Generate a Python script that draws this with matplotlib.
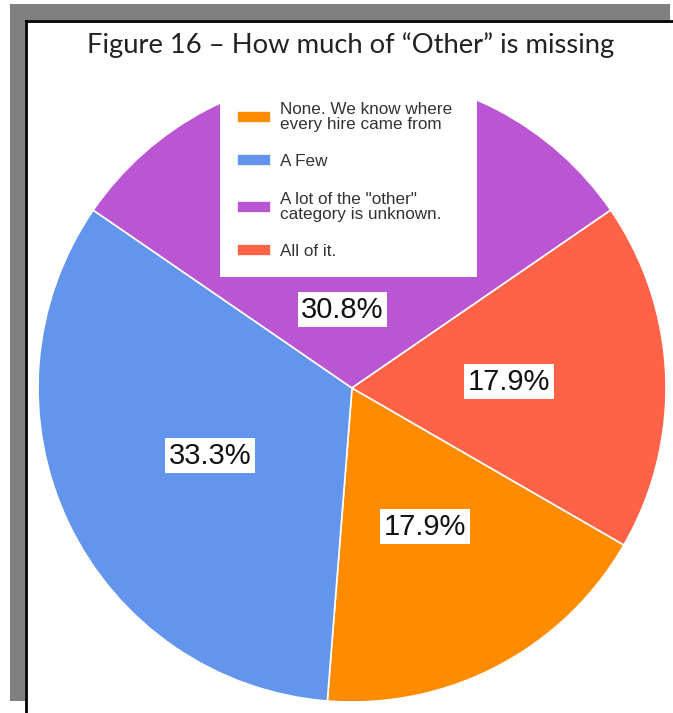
import matplotlib
matplotlib.use("Agg")
import matplotlib.pyplot as plt
from matplotlib.patches import Rectangle
from matplotlib.lines import Line2D

# data (percent of responses)
labels = ["None. We know where\nevery hire came from",
          "A Few",
          "A lot of the \"other\"\ncategory is unknown.",
          "All of it."]
shares = [17.9, 33.3, 30.8, 17.9]
colors = ["darkorange", "cornflowerblue", "mediumorchid", "tomato"]

W, H = 673, 713
fig = plt.figure(figsize=(W / 100, H / 100), dpi=100)


def fx(px):
    return px / W


def fy(py):
    return 1 - py / H


# page frame: grey shadow + black edge
fig.patches.append(Rectangle((fx(10), fy(20)), fx(660), 16 / H, transform=fig.transFigure,
                             fc="#808080", ec="none", zorder=0))
fig.patches.append(Rectangle((fx(10), fy(701)), fx(15), 681 / H, transform=fig.transFigure,
                             fc="#808080", ec="none", zorder=0))
fig.lines.append(Line2D([fx(26), fx(673)], [fy(21), fy(21)], transform=fig.transFigure,
                        color="black", lw=2))
fig.lines.append(Line2D([fx(26), fx(26)], [fy(21), fy(713)], transform=fig.transFigure,
                        color="black", lw=2))

fig.text(fx(351), fy(45), "Figure 16 \u2013 How much of \u201cOther\u201d is missing",
         ha="center", va="center", fontsize=19.7, family="Lato", color="#222222")

# pie: centre (352, 388), radius 314 px
r = 314
ax = fig.add_axes([fx(352 - r), 1 - (388 + r) / H, 2 * r / W, 2 * r / H])
wedges, texts, pcts = ax.pie(shares, colors=colors, startangle=-30, counterclock=False,
                             autopct="%.1f%%", pctdistance=0.5,
                             wedgeprops=dict(edgecolor="white", linewidth=1.2),
                             textprops=dict(fontsize=21, family="Liberation Sans", color="#111111"))
ax.set_xlim(-1, 1)
ax.set_ylim(-1, 1)
for t in pcts:
    t.set_bbox(dict(boxstyle="square,pad=0.12", fc="white", ec="none"))
# the purple label sits low, under the legend box
pcts[2].set_position((-0.03, 0.25))

# white legend box that hides the top of the pie
ax.add_patch(Rectangle((fx(220), fy(277)), fx(257), 217 / H, transform=fig.transFigure,
                       fc="white", ec="none", clip_on=False, zorder=5))
leg = fig.legend(wedges, labels, loc="upper left", bbox_to_anchor=(fx(237), fy(102)),
                 frameon=False, borderaxespad=0, borderpad=0,
                 handlelength=2.0, handleheight=0.7, handletextpad=0.5,
                 labelspacing=1.3, prop=dict(family="Liberation Sans", size=12.3))
for t in leg.get_texts():
    t.set_color("#333333")
    t.set_linespacing(1.02)
leg.set_zorder(6)

fig.savefig("out.png", dpi=100)
